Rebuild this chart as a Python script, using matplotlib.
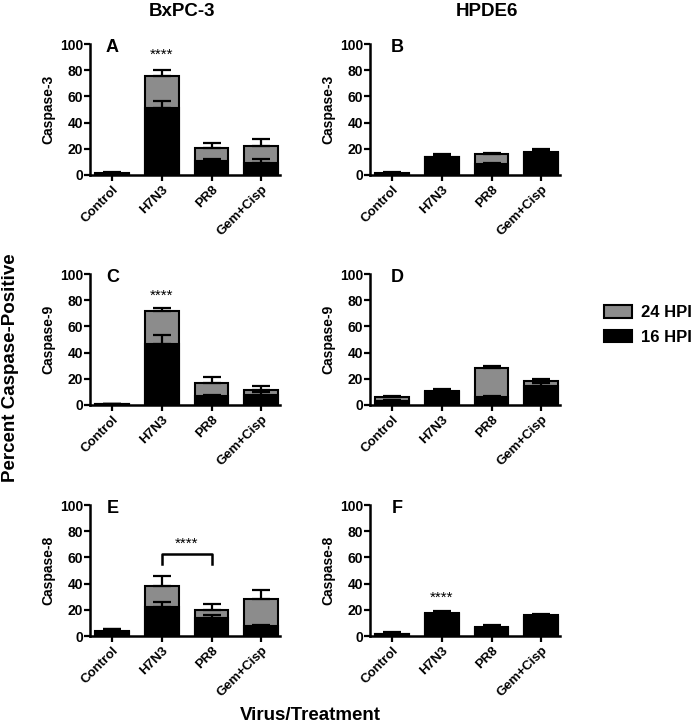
import numpy as np
import matplotlib
matplotlib.use('Agg')
import matplotlib.pyplot as plt
from matplotlib.patches import Patch

plt.rcParams['font.family'] = ['Liberation Sans', 'DejaVu Sans']

cats = ['Control', 'H7N3', 'PR8', 'Gem+Cisp']

# 24 HPI (grey, behind) and 16 HPI (black, front): means and upper SEM
A_24 = [1.2, 75.8, 20.9, 22.4]
A_24_err = [0.8, 4.2, 3.8, 4.8]
A_16 = [0.8, 51.5, 11.0, 9.4]
A_16_err = [0.5, 5.0, 1.5, 2.8]

B_24 = [1.0, 13.5, 15.8, 17.0]
B_24_err = [0.5, 1.5, 1.2, 2.0]
B_16 = [1.2, 14.0, 8.4, 17.8]
B_16_err = [0.8, 1.8, 0.8, 2.2]

C_24 = [0.5, 72.0, 16.8, 11.7]
C_24_err = [0.3, 2.2, 4.6, 2.5]
C_16 = [0.4, 46.6, 6.6, 7.6]
C_16_err = [0.2, 7.1, 1.3, 2.1]

D_24 = [5.9, 10.0, 28.2, 18.6]
D_24_err = [0.7, 1.0, 1.6, 1.2]
D_16 = [2.8, 10.4, 5.9, 14.8]
D_16_err = [0.8, 1.8, 0.6, 2.0]

E_24 = [3.5, 38.2, 20.1, 28.5]
E_24_err = [1.5, 7.8, 4.1, 6.4]
E_16 = [3.0, 22.1, 13.7, 7.9]
E_16_err = [2.3, 3.6, 2.6, 0.5]

F_24 = [1.5, 17.0, 6.0, 16.0]
F_24_err = [0.8, 1.0, 1.0, 0.8]
F_16 = [1.8, 17.6, 6.6, 14.8]
F_16_err = [1.0, 1.2, 1.8, 1.5]

panels = [
    ('A', 'Caspase-3', A_24, A_24_err, A_16, A_16_err),
    ('B', 'Caspase-3', B_24, B_24_err, B_16, B_16_err),
    ('C', 'Caspase-9', C_24, C_24_err, C_16, C_16_err),
    ('D', 'Caspase-9', D_24, D_24_err, D_16, D_16_err),
    ('E', 'Caspase-8', E_24, E_24_err, E_16, E_16_err),
    ('F', 'Caspase-8', F_24, F_24_err, F_16, F_16_err),
]

grey = '#8c8c8c'
W, H = 700, 725
fig = plt.figure(figsize=(7, 7.25), dpi=100)

lefts = [90, 370]
bottoms = [175, 405, 636]
x = np.arange(len(cats))
axes = {}
for i, (letter, ylab, h24, e24, h16, e16) in enumerate(panels):
    r, c = divmod(i, 2)
    ax = fig.add_axes([lefts[c] / W, 1 - bottoms[r] / H, 190 / W, 131 / H])
    axes[letter] = ax
    ax.bar(x, h24, width=0.68, color=grey, edgecolor='black', linewidth=1.5, zorder=2)
    ax.errorbar(x, h24, yerr=[np.zeros(4), e24], fmt='none', ecolor='black',
                elinewidth=1.6, capsize=6.5, capthick=1.6, zorder=2.5)
    ax.bar(x, h16, width=0.68, color='black', edgecolor='black', linewidth=1.5, zorder=3)
    ax.errorbar(x, h16, yerr=[np.zeros(4), e16], fmt='none', ecolor='black',
                elinewidth=1.6, capsize=6.5, capthick=1.6, zorder=3.5)
    ax.set_xlim(-0.45, 3.38)
    ax.set_ylim(0, 100)
    ax.set_yticks([0, 20, 40, 60, 80, 100])
    ax.set_xticks(x)
    ax.set_xticklabels(cats, rotation=45, ha='right', rotation_mode='anchor',
                       fontsize=9.5, fontweight='bold')
    for t in ax.get_yticklabels():
        t.set_fontweight('bold')
    ax.tick_params(axis='y', labelsize=10, width=1.6, length=4, pad=1)
    ax.tick_params(axis='x', width=1.6, length=4, pad=2)
    for s in ['top', 'right']:
        ax.spines[s].set_visible(False)
    for s in ['left', 'bottom']:
        ax.spines[s].set_linewidth(1.8)
    ax.set_ylabel(ylab, fontsize=10, fontweight='bold', labelpad=3)
    ax.text(0.1 if c == 1 else 0.0, 97, letter, fontsize=13, fontweight='bold',
            ha='center', va='center')

axes['A'].text(1, 92, '****', ha='center', va='center', fontsize=11)
axes['C'].text(1, 83, '****', ha='center', va='center', fontsize=11)
axes['F'].text(1, 29, '****', ha='center', va='center', fontsize=11)
axes['E'].plot([1, 1, 2, 2], [55, 62.6, 62.6, 55], color='black', lw=1.8)
axes['E'].text(1.5, 70.5, '****', ha='center', va='center', fontsize=11)

fig.text(182 / W, 1 - 11 / H, 'BxPC-3', ha='center', va='center', fontsize=13.5, fontweight='bold')
fig.text(487 / W, 1 - 11 / H, 'HPDE6', ha='center', va='center', fontsize=13.5, fontweight='bold')
fig.text(11 / W, 1 - 368 / H, 'Percent Caspase-Positive', rotation=90, ha='center', va='center',
         fontsize=13.5, fontweight='bold')
fig.text(310 / W, 1 - 716 / H, 'Virus/Treatment', ha='center', va='center', fontsize=13.5, fontweight='bold')

handles = [Patch(facecolor=grey, edgecolor='black', linewidth=1.5, label='24 HPI'),
           Patch(facecolor='black', edgecolor='black', linewidth=1.5, label='16 HPI')]
fig.legend(handles=handles, loc='upper left', bbox_to_anchor=(596 / W, 1 - 297 / H), frameon=False,
           prop={'size': 12, 'weight': 'bold'}, handlelength=1.65, handleheight=0.75,
           handletextpad=0.55, labelspacing=0.55, borderpad=0)

fig.savefig('out.png', dpi=100)
